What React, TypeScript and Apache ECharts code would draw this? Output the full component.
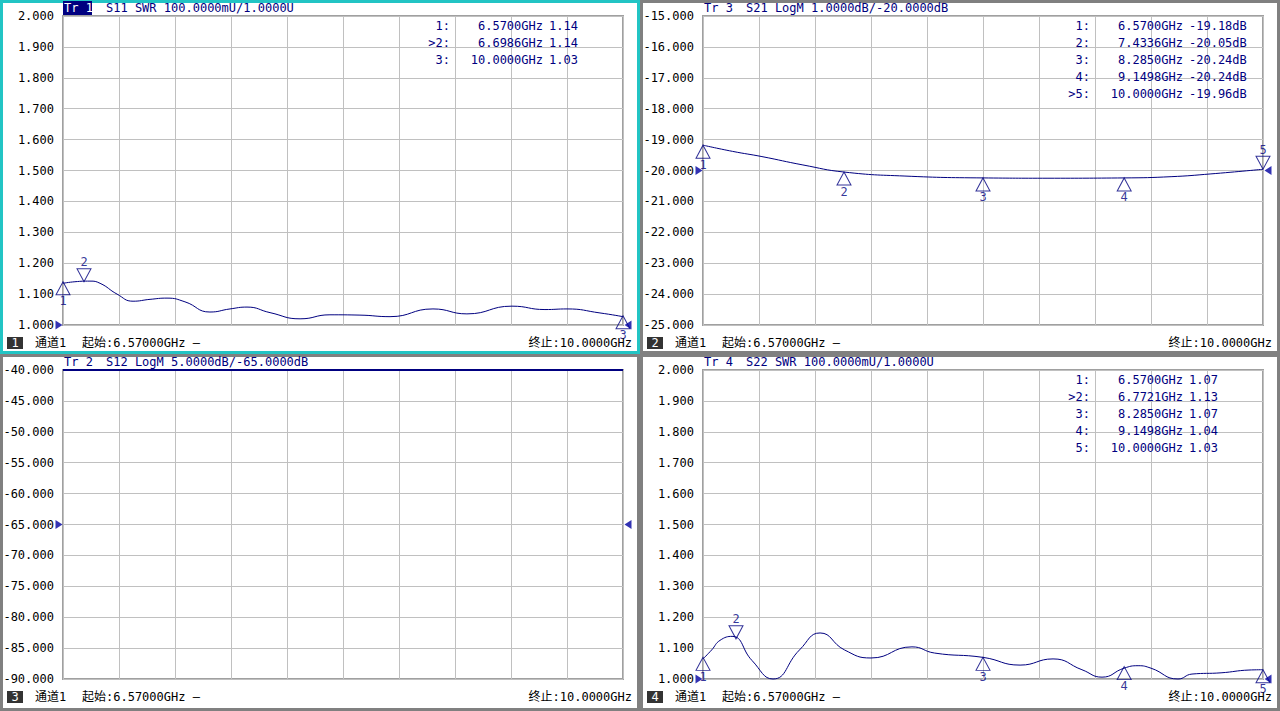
import React, { useEffect, useRef } from "react";
import * as echarts from "echarts";

// ---------- data ----------
const FREQ_START = 6.57;
const FREQ_STOP = 10.0;

const s11Freq = [6.57, 6.643, 6.735, 6.797, 6.901, 6.999, 7.103, 7.207, 7.317, 7.47, 7.593, 7.697, 7.838, 8.022, 8.205, 8.389, 8.573, 8.836, 9.044, 9.32, 9.522, 9.657, 9.859, 10.0];
const s11Swr = [1.135, 1.14, 1.142, 1.135, 1.1, 1.077, 1.083, 1.087, 1.075, 1.042, 1.052, 1.058, 1.04, 1.02, 1.033, 1.032, 1.027, 1.052, 1.036, 1.061, 1.05, 1.052, 1.039, 1.027];

const s21Freq = [6.57, 6.75, 6.931, 7.182, 7.434, 7.807, 8.285, 8.683, 9.149, 9.437, 9.681, 10.0];
const s21Db = [-19.18, -19.38, -19.55, -19.82, -20.05, -20.18, -20.24, -20.25, -20.24, -20.2, -20.11, -19.96];

const s12Freq = [6.57, 10.0];
const s12Db = [-40, -40];

const s22Freq = [6.57, 6.623, 6.674, 6.748, 6.87, 6.999, 7.161, 7.287, 7.437, 7.599, 7.85, 7.988, 8.285, 8.512, 8.714, 8.891, 9.014, 9.149, 9.235, 9.314, 9.479, 9.565, 9.743, 9.914, 10.0];
const s22Swr = [1.065, 1.094, 1.125, 1.138, 1.06, 1.0, 1.094, 1.149, 1.094, 1.068, 1.104, 1.084, 1.07, 1.045, 1.065, 1.03, 1.006, 1.035, 1.043, 1.035, 1.0, 1.016, 1.02, 1.029, 1.03];

const s11MarkerFreq = [6.57, 6.6986, 10.0];
const s11MarkerVal = [1.14, 1.14, 1.03];
const s11Active = 1;

const s21MarkerFreq = [6.57, 7.4336, 8.285, 9.1498, 10.0];
const s21MarkerVal = [-19.18, -20.05, -20.24, -20.24, -19.96];
const s21Active = 4;

const s22MarkerFreq = [6.57, 6.7721, 8.285, 9.1498, 10.0];
const s22MarkerVal = [1.07, 1.13, 1.07, 1.04, 1.03];
const s22Active = 1;

const refLevels = [1.0, -20.0, -65.0, 1.0];

// ---------- styles ----------
const NAVY = "#000080";
const FONT = '"DejaVu Sans Mono", "Noto Sans CJK SC", monospace';
const FS = 12;

type Panel = {
  x: number; y: number; w: number; h: number;
  left: number; top: number; width: number; height: number;
  yMin: number; yMax: number; yStep: number;
  freq: number[]; vals: number[];
  mFreq: number[]; mVal: number[]; active: number; unit: string;
  tr: string; trActive: boolean; title: string; ch: string; frame: string; frameW: number;
  ref: number;
};

const panels: Panel[] = [
  { x: 0, y: 0, w: 640, h: 354, left: 63, top: 16, width: 560, height: 309, yMin: 1, yMax: 2, yStep: 0.1,
    freq: s11Freq, vals: s11Swr, mFreq: s11MarkerFreq, mVal: s11MarkerVal, active: s11Active, unit: "",
    tr: "Tr 1", trActive: true, title: "S11 SWR 100.0000mU/1.0000U", ch: "1", frame: "#22c4c4", frameW: 3, ref: refLevels[0] },
  { x: 640, y: 0, w: 640, h: 354, left: 703, top: 16, width: 560, height: 309, yMin: -25, yMax: -15, yStep: 1,
    freq: s21Freq, vals: s21Db, mFreq: s21MarkerFreq, mVal: s21MarkerVal, active: s21Active, unit: "dB",
    tr: "Tr 3", trActive: false, title: "S21 LogM 1.0000dB/-20.0000dB", ch: "2", frame: "#808080", frameW: 3, ref: refLevels[1] },
  { x: 0, y: 354, w: 640, h: 357, left: 63, top: 370, width: 560, height: 309, yMin: -90, yMax: -40, yStep: 5,
    freq: s12Freq, vals: s12Db, mFreq: [], mVal: [], active: -1, unit: "dB",
    tr: "Tr 2", trActive: false, title: "S12 LogM 5.0000dB/-65.0000dB", ch: "3", frame: "#808080", frameW: 3, ref: refLevels[2] },
  { x: 640, y: 354, w: 640, h: 357, left: 703, top: 370, width: 560, height: 309, yMin: 1, yMax: 2, yStep: 0.1,
    freq: s22Freq, vals: s22Swr, mFreq: s22MarkerFreq, mVal: s22MarkerVal, active: s22Active, unit: "",
    tr: "Tr 4", trActive: false, title: "S22 SWR 100.0000mU/1.0000U", ch: "4", frame: "#808080", frameW: 3, ref: refLevels[3] },
];

const UP_TRI = "path://M7,0 L14,13 L0,13 Z";
const DOWN_TRI = "path://M0,0 L14,0 L7,13 Z";
const RIGHT_ARROW = "path://M0,0 L8,5 L0,10 Z";
const LEFT_ARROW = "path://M8,0 L0,5 L8,10 Z";

function buildOption() {
  const grid: any[] = [];
  const xAxis: any[] = [];
  const yAxis: any[] = [];
  const series: any[] = [];
  const graphic: any[] = [];

  panels.forEach((p, i) => {
    grid.push({
      left: p.left, top: p.top, width: p.width, height: p.height,
      show: true, borderColor: "#a0a0a0", borderWidth: 2, backgroundColor: "#fff", containLabel: false,
    });
    xAxis.push({
      type: "value", gridIndex: i, min: FREQ_START, max: FREQ_STOP, interval: 0.343,
      axisLine: { show: false }, axisTick: { show: false }, axisLabel: { show: false },
      splitLine: { show: true, lineStyle: { color: "#c0c0c0", width: 1 } },
    });
    yAxis.push({
      type: "value", gridIndex: i, min: p.yMin, max: p.yMax, interval: p.yStep,
      axisLine: { show: false }, axisTick: { show: false },
      axisLabel: { show: true, margin: 9, color: "#000", fontFamily: FONT, fontSize: FS,
        formatter: (v: number) => v.toFixed(3) },
      splitLine: { show: true, lineStyle: { color: "#c0c0c0", width: 1 } },
    });

    // trace
    series.push({
      type: "line", xAxisIndex: i, yAxisIndex: i, symbol: "none", smooth: p.freq.length > 2 ? 0.5 : false,
      clip: false, lineStyle: { color: NAVY, width: p.freq.length > 2 ? 1 : 2 },
      data: p.freq.map((f, k) => [f, p.vals[k]]), z: 3,
    });

    // markers
    if (p.mFreq.length) {
      series.push({
        type: "scatter", xAxisIndex: i, yAxisIndex: i, clip: false, z: 4,
        itemStyle: { color: "rgba(255,255,255,0)", borderColor: NAVY, borderWidth: 1 },
        data: p.mFreq.map((f, k) => {
          const down = k === p.active;
          return {
            value: [f, p.mVal[k]], name: String(k + 1),
            symbol: down ? DOWN_TRI : UP_TRI, symbolSize: [14, 13],
            symbolOffset: [0, down ? -6.5 : 6.5],
            label: { show: true, formatter: String(k + 1), position: down ? "top" : "bottom", distance: 0,
              color: NAVY, fontFamily: FONT, fontSize: FS },
          };
        }),
      });
    }

    // reference arrows
    series.push({
      type: "scatter", xAxisIndex: i, yAxisIndex: i, clip: false, z: 5,
      itemStyle: { color: "#0000a0" },
      data: [
        { value: [FREQ_START, p.ref], symbol: RIGHT_ARROW, symbolSize: [7, 9], symbolOffset: [-4, 0] },
        { value: [FREQ_STOP, p.ref], symbol: LEFT_ARROW, symbolSize: [7, 9], symbolOffset: [5, 0] },
      ],
    });

    // frame
    graphic.push({
      type: "rect", z: 10, silent: true,
      shape: { x: p.x + p.frameW / 2, y: p.y + p.frameW / 2, width: p.w - p.frameW, height: p.h - p.frameW },
      style: { fill: "none", stroke: p.frame, lineWidth: p.frameW },
    });

    // header
    const hy = p.top - 8;
    if (p.trActive) {
      graphic.push({ type: "rect", z: 11, shape: { x: p.left, y: p.top - 15, width: 29, height: 14 }, style: { fill: NAVY } });
    }
    graphic.push({ type: "text", z: 12, x: p.left + 1, y: hy,
      style: { text: p.tr, fill: p.trActive ? "#fff" : NAVY, font: `${FS}px ${FONT}`, textVerticalAlign: "middle", verticalAlign: "middle" } });
    graphic.push({ type: "text", z: 12, x: p.left + 43, y: hy,
      style: { text: p.title, fill: NAVY, font: `${FS}px ${FONT}`, verticalAlign: "middle" } });

    // marker table
    const right = p.left + p.width;
    p.mFreq.forEach((f, k) => {
      const ry = p.top + 10 + k * 17;
      const lbl = (k === p.active ? ">" : "") + (k + 1) + ":";
      graphic.push({ type: "text", z: 12, x: right - 173, y: ry,
        style: { text: lbl, fill: NAVY, font: `${FS}px ${FONT}`, align: "right", verticalAlign: "middle" } });
      graphic.push({ type: "text", z: 12, x: right - 80, y: ry,
        style: { text: f.toFixed(4) + "GHz", fill: NAVY, font: `${FS}px ${FONT}`, align: "right", verticalAlign: "middle" } });
      graphic.push({ type: "text", z: 12, x: right - 74, y: ry,
        style: { text: p.mVal[k].toFixed(2) + p.unit, fill: NAVY, font: `${FS}px ${FONT}`, align: "left", verticalAlign: "middle" } });
    });

    // footer
    const fy = p.top + p.height + 18;
    graphic.push({ type: "rect", z: 11, shape: { x: p.x + 7, y: fy - 6, width: 16, height: 12 }, style: { fill: "#333" } });
    graphic.push({ type: "text", z: 12, x: p.x + 15, y: fy,
      style: { text: p.ch, fill: "#fff", font: `${FS}px ${FONT}`, align: "center", verticalAlign: "middle" } });
    graphic.push({ type: "text", z: 12, x: p.x + 35, y: fy,
      style: { text: "通道1", fill: "#000", font: `${FS}px ${FONT}`, verticalAlign: "middle" } });
    graphic.push({ type: "text", z: 12, x: p.x + 82, y: fy,
      style: { text: "起始:" + FREQ_START.toFixed(5) + "GHz —", fill: "#000", font: `${FS}px ${FONT}`, verticalAlign: "middle" } });
    graphic.push({ type: "text", z: 12, x: p.x + 632, y: fy,
      style: { text: "终止:" + FREQ_STOP.toFixed(4) + "GHz", fill: "#000", font: `${FS}px ${FONT}`, align: "right", verticalAlign: "middle" } });
  });

  return { animation: false, backgroundColor: "#fff", grid, xAxis, yAxis, series, graphic };
}

export default function App() {
  const ref = useRef<HTMLDivElement>(null);
  useEffect(() => {
    if (!ref.current) return;
    const chart = echarts.init(ref.current, undefined, { renderer: "svg" });
    chart.setOption(buildOption() as any);
    return () => chart.dispose();
  }, []);
  return <div ref={ref} style={{ position: "fixed", left: 0, top: 0, width: 1280, height: 711, background: "#fff" }} />;
}
